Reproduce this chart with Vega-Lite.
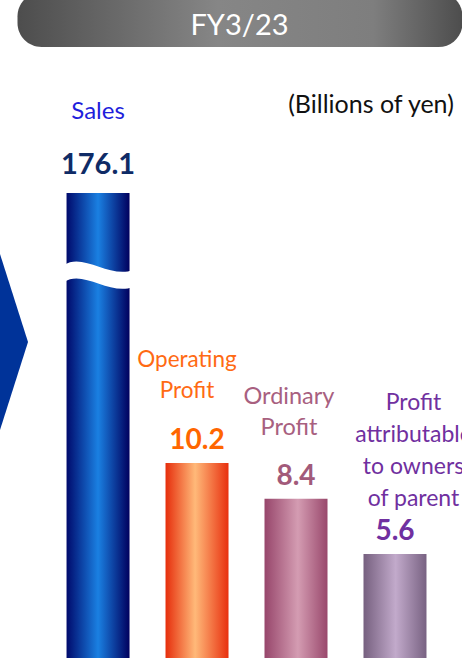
{
  "$schema": "https://vega.github.io/schema/vega-lite/v6.json",
  "width": 462,
  "height": 658,
  "padding": 0,
  "autosize": {"type": "none"},
  "background": "white",
  "config": {"view": {"stroke": null}, "font": "Lato", "text": {"font": "Lato"}},
  "data": {
    "values": [
      {"item": "Sales", "label": "Sales", "value": 176.1},
      {"item": "Operating Profit", "label": "Operating\nProfit", "value": 10.2},
      {"item": "Ordinary Profit", "label": "Ordinary\nProfit", "value": 8.4},
      {"item": "Profit attributable to owners of parent", "label": "Profit\nattributable\nto owners\nof parent", "value": 5.6}
    ]
  },
  "layer": [
    {
      "data": {"values": [{"title": "FY3/23"}]},
      "mark": {
        "type": "rect",
        "cornerRadius": 24,
        "width": 445,
        "xOffset": -222,
        "fill": {"gradient": "linear", "x1": 0, "y1": 0, "x2": 1, "y2": 0,
          "stops": [{"offset": 0, "color": "#4d4d4d"}, {"offset": 0.45, "color": "#868686"}, {"offset": 0.8, "color": "#7e7e7e"}, {"offset": 1, "color": "#4d4d4d"}]}
      },
      "encoding": {
        "y": {"datum": 31.234, "type": "quantitative", "scale": {"domain": [0.3438, 33.61], "nice": false, "zero": false}, "axis": null},
        "y2": {"datum": 34.0}
      }
    },
    {
      "data": {"values": [{"title": "FY3/23"}]},
      "mark": {"type": "text", "fontSize": 29, "color": "white", "align": "center", "baseline": "alphabetic", "dx": 8.5, "dy": -12},
      "encoding": {
        "y": {"datum": 31.234, "type": "quantitative", "scale": {"domain": [0.3438, 33.61], "nice": false, "zero": false}, "axis": null},
        "text": {"field": "title", "type": "nominal"}
      }
    },
    {
      "data": {"values": [{"arrow": "next"}]},
      "mark": {"type": "point", "shape": "M -2.52 -1.41 L -2.03 0.13 L -2.52 1.67 Z", "size": 40000, "filled": true, "color": "#003399", "opacity": 1, "strokeWidth": 0}
    },
    {
      "transform": [{"filter": "datum.item === 'Sales'"}],
      "encoding": {
        "x": {"field": "item", "type": "nominal", "axis": null,
          "scale": {"domain": ["Sales", "Operating Profit", "Ordinary Profit", "Profit attributable to owners of parent"], "paddingInner": 0.3636, "paddingOuter": 0.5155, "align": 0.652}},
        "y": {"field": "value", "type": "quantitative", "axis": null, "scale": {"domain": [2.538, 248.13], "nice": false, "zero": false}}
      },
      "layer": [
        {"mark": {"type": "bar", "stroke": null,
          "fill": {"gradient": "linear", "x1": 0, "y1": 0, "x2": 1, "y2": 0,
            "stops": [{"offset": 0, "color": "#000a6c"}, {"offset": 0.5, "color": "#1a80e2"}, {"offset": 1, "color": "#00005e"}]}}},
        {"mark": {"type": "point", "shape": "M -3.4 -1.0 C -1.5 -2.3 1.2 0.4 3.5 -0.5 L 3.5 1.2 C 1.2 2.1 -1.5 -0.6 -3.4 0.7 Z", "size": 400, "filled": true, "color": "white", "opacity": 1, "strokeWidth": 0, "yOffset": 82}},
        {"mark": {"type": "text", "fontSize": 24, "color": "#1f1fdc", "align": "center", "baseline": "alphabetic", "dy": -74},
          "encoding": {"text": {"field": "label", "type": "nominal"}}},
        {"mark": {"type": "text", "fontSize": 29, "fontWeight": "bold", "color": "#0f2b66", "align": "center", "baseline": "alphabetic", "dy": -19},
          "encoding": {"text": {"field": "value", "type": "quantitative", "format": ".1f"}}},
        {"mark": {"type": "text", "fontSize": 25, "color": "#111111", "align": "center", "baseline": "alphabetic", "dy": -79.7, "dx": -24},
          "encoding": {"x": {"datum": "Profit attributable to owners of parent", "type": "nominal"}, "text": {"value": "(Billions of yen)"}}}
      ]
    },
    {
      "transform": [{"filter": "datum.item !== 'Sales'"}],
      "encoding": {
        "x": {"field": "item", "type": "nominal", "axis": null,
          "scale": {"domain": ["Sales", "Operating Profit", "Ordinary Profit", "Profit attributable to owners of parent"], "paddingInner": 0.3636, "paddingOuter": 0.5155, "align": 0.652}},
        "y": {"field": "value", "type": "quantitative", "axis": null, "scale": {"domain": [0.3438, 33.61], "nice": false, "zero": false}}
      },
      "layer": [
        {"transform": [{"filter": "datum.item === 'Operating Profit'"}],
          "mark": {"type": "bar", "stroke": null,
            "fill": {"gradient": "linear", "x1": 0, "y1": 0, "x2": 1, "y2": 0,
              "stops": [{"offset": 0, "color": "#e62e0c"}, {"offset": 0.47, "color": "#ffb979"}, {"offset": 1, "color": "#e8300e"}]}}},
        {"transform": [{"filter": "datum.item === 'Ordinary Profit'"}],
          "mark": {"type": "bar", "stroke": null,
            "fill": {"gradient": "linear", "x1": 0, "y1": 0, "x2": 1, "y2": 0,
              "stops": [{"offset": 0, "color": "#97466b"}, {"offset": 0.53, "color": "#d49cb2"}, {"offset": 1, "color": "#99486c"}]}}},
        {"transform": [{"filter": "datum.item === 'Profit attributable to owners of parent'"}],
          "mark": {"type": "bar", "stroke": null,
            "fill": {"gradient": "linear", "x1": 0, "y1": 0, "x2": 1, "y2": 0,
              "stops": [{"offset": 0, "color": "#76607f"}, {"offset": 0.51, "color": "#c2aacb"}, {"offset": 1, "color": "#786282"}]}}},
        {"transform": [{"filter": "datum.item === 'Operating Profit'"}],
          "mark": {"type": "text", "fontSize": 22.5, "color": "#ff6a13", "align": "center", "baseline": "alphabetic", "lineBreak": "\n", "lineHeight": 31, "dy": -96.3, "dx": -10},
          "encoding": {"text": {"field": "label", "type": "nominal"}}},
        {"transform": [{"filter": "datum.item === 'Ordinary Profit'"}],
          "mark": {"type": "text", "fontSize": 23.5, "color": "#a8607f", "align": "center", "baseline": "alphabetic", "lineBreak": "\n", "lineHeight": 31, "dy": -94.6, "dx": -7},
          "encoding": {"text": {"field": "label", "type": "nominal"}}},
        {"transform": [{"filter": "datum.item === 'Profit attributable to owners of parent'"}],
          "mark": {"type": "text", "fontSize": 23, "color": "#7030a0", "align": "center", "baseline": "alphabetic", "lineBreak": "\n", "lineHeight": 32, "dy": -144, "dx": 18.5},
          "encoding": {"text": {"field": "label", "type": "nominal"}}},
        {"mark": {"type": "text", "fontSize": 28, "fontWeight": "bold", "align": "center", "baseline": "alphabetic", "dy": -14},
          "encoding": {
            "text": {"field": "value", "type": "quantitative", "format": ".1f"},
            "color": {"field": "item", "type": "nominal", "legend": null,
              "scale": {"domain": ["Operating Profit", "Ordinary Profit", "Profit attributable to owners of parent"], "range": ["#ff6600", "#a25a7a", "#7030a0"]}}
          }}
      ]
    }
  ],
  "resolve": {"scale": {"y": "independent"}}
}
